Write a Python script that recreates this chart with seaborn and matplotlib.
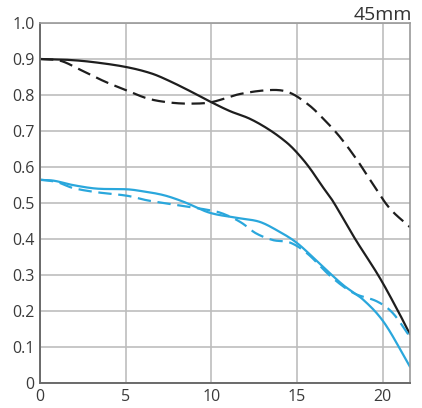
import numpy as np
import matplotlib
matplotlib.use("Agg")
import matplotlib.pyplot as plt
import seaborn as sns
import pandas as pd

# MTF curves (image height in mm vs contrast)
black_solid_x = [0, 1.5, 3, 5, 6.5, 7.6, 9, 10, 11.1, 12.25, 13.4, 14.4, 15.0, 15.7, 16.5, 17.1, 18.4, 19.8, 20.9, 21.6]
black_solid_y = [0.90, 0.898, 0.892, 0.878, 0.86, 0.838, 0.805, 0.78, 0.755, 0.734, 0.703, 0.668, 0.64, 0.60, 0.545, 0.505, 0.40, 0.295, 0.20, 0.135]

black_dash_x = [0, 1.2, 2.4, 3.8, 5, 6.3, 7.6, 8.8, 10, 11.7, 13.6, 14.6, 15.7, 16.5, 17.5, 18.5, 19.4, 20.4, 21.6]
black_dash_y = [0.90, 0.895, 0.869, 0.837, 0.814, 0.79, 0.779, 0.776, 0.78, 0.803, 0.814, 0.806, 0.772, 0.736, 0.684, 0.62, 0.555, 0.486, 0.433]

blue_solid_x = [0, 0.8, 1.9, 3.3, 5.1, 5.8, 7.2, 8.4, 9.9, 11.6, 12.8, 13.8, 15.0, 16.4, 17.7, 18.9, 20.1, 21.6]
blue_solid_y = [0.564, 0.562, 0.55, 0.54, 0.538, 0.534, 0.522, 0.503, 0.473, 0.458, 0.448, 0.425, 0.389, 0.328, 0.272, 0.23, 0.167, 0.045]

blue_dash_x = [0, 1.0, 1.9, 3.3, 5.1, 6.3, 8.2, 10.3, 11.1, 11.8, 12.6, 13.6, 14.6, 15.6, 17.0, 18.3, 19.7, 20.6, 21.6]
blue_dash_y = [0.565, 0.558, 0.542, 0.53, 0.52, 0.507, 0.493, 0.476, 0.462, 0.444, 0.416, 0.397, 0.39, 0.36, 0.295, 0.25, 0.226, 0.194, 0.128]

x_ticks = [0, 5, 10, 15, 20]
y_ticks = [0, 0.1, 0.2, 0.3, 0.4, 0.5, 0.6, 0.7, 0.8, 0.9, 1.0]
y_labels = ["0", "0.1", "0.2", "0.3", "0.4", "0.5", "0.6", "0.7", "0.8", "0.9", "1.0"]
title = "45mm"

BLACK = "#1e1e1e"
BLUE = "#2aa7dc"


def smooth(xs, ys, n=300):
    # cubic Hermite (Catmull-Rom tangents) through the read points
    xs = np.asarray(xs, float)
    ys = np.asarray(ys, float)
    xx = np.linspace(xs[0], xs[-1], n)
    out = np.empty_like(xx)
    for i, xv in enumerate(xx):
        k = np.searchsorted(xs, xv, side="right") - 1
        k = min(max(k, 0), len(xs) - 2)
        x0, x1 = xs[k], xs[k + 1]
        y0, y1 = ys[k], ys[k + 1]
        m0 = (ys[k + 1] - ys[k - 1]) / (xs[k + 1] - xs[k - 1]) if k > 0 else (y1 - y0) / (x1 - x0)
        m1 = (ys[k + 2] - ys[k]) / (xs[k + 2] - xs[k]) if k + 2 < len(xs) else (y1 - y0) / (x1 - x0)
        h = x1 - x0
        t = (xv - x0) / h
        h00 = 2 * t**3 - 3 * t**2 + 1
        h10 = t**3 - 2 * t**2 + t
        h01 = -2 * t**3 + 3 * t**2
        h11 = t**3 - t**2
        out[i] = h00 * y0 + h10 * h * m0 + h01 * y1 + h11 * h * m1
    return xx, out


frames = []
for name, xs, ys in [("black_solid", black_solid_x, black_solid_y),
                     ("black_dash", black_dash_x, black_dash_y),
                     ("blue_solid", blue_solid_x, blue_solid_y),
                     ("blue_dash", blue_dash_x, blue_dash_y)]:
    xx, yy = smooth(xs, ys)
    frames.append(pd.DataFrame({"x": xx, "y": yy, "curve": name}))
df = pd.concat(frames, ignore_index=True)

sns.set_style("white")
plt.rcParams["font.family"] = ["Open Sans", "DejaVu Sans"]

fig = plt.figure(figsize=(4.22, 4.08), dpi=100)
ax = fig.add_axes([40 / 422, 25 / 408, 370 / 422, 360 / 408])

styles = {
    "black_solid": (BLACK, None),
    "black_dash": (BLACK, (6, 3)),
    "blue_solid": (BLUE, None),
    "blue_dash": (BLUE, (6, 3)),
}
for name, (color, dash) in styles.items():
    sub = df[df["curve"] == name]
    sns.lineplot(data=sub, x="x", y="y", ax=ax, color=color, linewidth=1.6,
                 estimator=None, sort=False)
    if dash is not None:
        ax.lines[-1].set_dashes(dash)

ax.set_xlim(0, 21.6)
ax.set_ylim(0, 1.0)
ax.set_xticks(x_ticks)
ax.set_yticks(y_ticks)
ax.set_yticklabels(y_labels)
ax.set_xlabel("")
ax.set_ylabel("")
ax.grid(True, color="#bdbdbd", linewidth=1.2)
ax.set_axisbelow(True)
ax.tick_params(length=0, labelsize=11.5, colors="#3a3a3a", pad=4)
for side in ["left", "bottom"]:
    ax.spines[side].set_color("#6a6a6a")
    ax.spines[side].set_linewidth(1.4)
for side in ["top", "right"]:
    ax.spines[side].set_color("#9a9a9a")
    ax.spines[side].set_linewidth(1.2)

fig.text(412 / 422, 1 - 20 / 408, title, ha="right", va="baseline", fontsize=14, color="#333333")

fig.savefig("out.png", dpi=100)
